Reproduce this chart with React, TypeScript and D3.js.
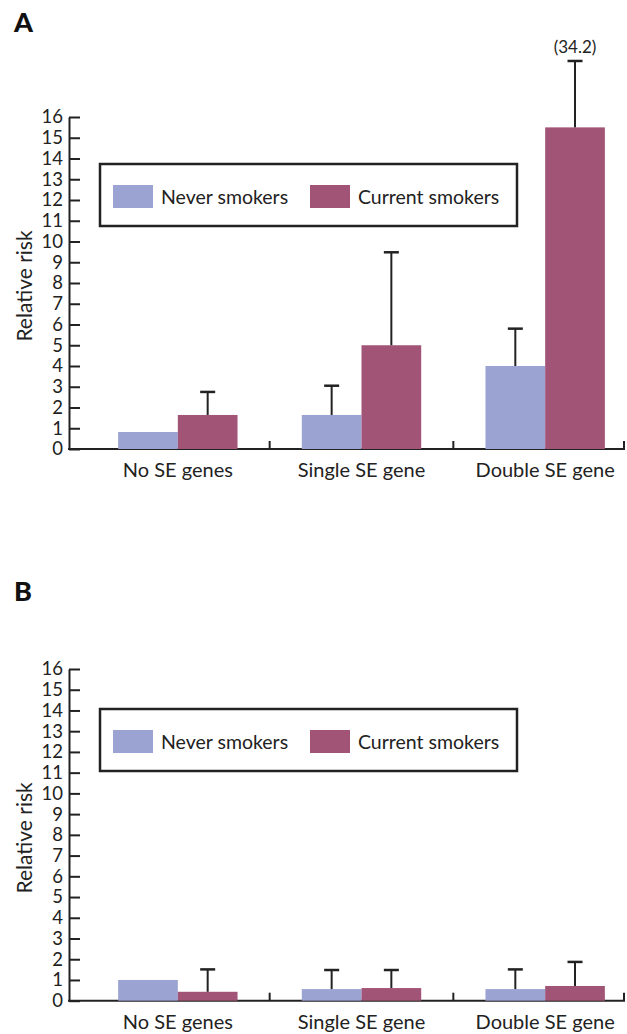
import React, { useEffect, useRef } from 'react';
import * as d3 from 'd3';

const categories = ['No SE genes', 'Single SE gene', 'Double SE gene'];
const seriesNames = ['Never smokers', 'Current smokers'];
const seriesColors = ['#9ba3d3', '#a25476'];
const yTicks = [0, 1, 2, 3, 4, 5, 6, 7, 8, 9, 10, 11, 12, 13, 14, 15, 16];

// panel A: relative risk and upper limit of the error bar (null = no bar)
const neverA = [0.82, 1.64, 4.0];
const neverUpperA = [null, 3.05, 5.8];
const currentA = [1.64, 5.0, 15.5];
const currentUpperA = [2.75, 9.48, 34.2];

// panel B
const neverB = [1.0, 0.56, 0.56];
const neverUpperB = [null, 1.48, 1.51];
const currentB = [0.43, 0.61, 0.71];
const currentUpperB = [1.51, 1.48, 1.87];

const axisMax = 16;
const offScaleLimit = 20;
const brokenBarTop = 18.7; // off-scale error bars are cut here and labelled

const font = "Lato, 'Open Sans', sans-serif";
const ink = '#222';

function drawPanel(svg, o) {
  const g = svg.append('g');
  const y = d3.scaleLinear().domain([0, axisMax]).range([o.y0, o.y16]);
  const x = d3.scaleBand().domain(categories).range([86, 637]).paddingInner(0.35).paddingOuter(0.175);
  const xs = d3.scaleBand().domain(seriesNames).range([0, x.bandwidth()]);

  g.append('text').attr('x', 14).attr('y', o.letterY).text(o.letter)
    .attr('font-family', font).attr('font-weight', 900).attr('font-size', 27).attr('fill', '#111');

  // y axis, ticks pointing inward
  const ya = g.append('g').attr('transform', 'translate(69,0)')
    .call(d3.axisLeft(y).tickValues(yTicks).tickSizeInner(-11).tickSizeOuter(0).tickPadding(6));
  ya.select('.domain').attr('stroke', ink).attr('stroke-width', 2);
  ya.selectAll('.tick line').attr('stroke', ink).attr('stroke-width', 2);
  ya.selectAll('.tick text').attr('font-family', font).attr('font-size', 18.5).attr('fill', ink);

  g.append('text')
    .attr('transform', `translate(32,${(o.y0 + o.y16) / 2 + 3}) rotate(-90)`)
    .attr('text-anchor', 'middle').text('Relative risk')
    .attr('font-family', font).attr('font-size', 21).attr('fill', ink);

  // x axis
  g.append('line').attr('x1', 68).attr('x2', 625).attr('y1', o.y0).attr('y2', o.y0)
    .attr('stroke', ink).attr('stroke-width', 2);
  const sepX = categories.slice(0, -1).map(c => x(c) + x.bandwidth() + (x.step() * x.paddingInner()) / 2);
  sepX.concat([624]).forEach(sx => {
    g.append('line').attr('x1', sx).attr('x2', sx).attr('y1', o.y0).attr('y2', o.y0 - 8)
      .attr('stroke', ink).attr('stroke-width', 2);
  });
  g.selectAll('.cat').data(categories).enter().append('text')
    .attr('x', c => x(c) + x.bandwidth() / 2).attr('y', o.y0 + 28)
    .attr('text-anchor', 'middle').text(c => c)
    .attr('font-family', font).attr('font-size', 20).attr('fill', ink);

  const series = [
    { name: seriesNames[0], values: o.never, upper: o.neverUp, color: seriesColors[0] },
    { name: seriesNames[1], values: o.current, upper: o.currentUp, color: seriesColors[1] },
  ];

  series.forEach(s => {
    categories.forEach((c, i) => {
      const bx = x(c) + xs(s.name);
      const v = s.values[i];
      g.append('rect').attr('x', bx).attr('y', y(v)).attr('width', xs.bandwidth())
        .attr('height', o.y0 - y(v)).attr('fill', s.color);
    });
  });

  series.forEach(s => {
    categories.forEach((c, i) => {
      const up = s.upper[i];
      if (up == null) return;
      const cx = x(c) + xs(s.name) + xs.bandwidth() / 2;
      const v = s.values[i];
      const top = up > offScaleLimit ? y(brokenBarTop) : y(up);
      g.append('line').attr('x1', cx).attr('x2', cx).attr('y1', y(v)).attr('y2', top)
        .attr('stroke', ink).attr('stroke-width', 2);
      g.append('line').attr('x1', cx - 7.5).attr('x2', cx + 7.5).attr('y1', top).attr('y2', top)
        .attr('stroke', ink).attr('stroke-width', 2.5);
      if (up > offScaleLimit) {
        g.append('text').attr('x', cx).attr('y', top - 8).attr('text-anchor', 'middle')
          .text(`(${up})`).attr('font-family', font).attr('font-size', 17).attr('fill', ink);
      }
    });
  });

  // legend
  const lg = g.append('g').attr('transform', `translate(100,${o.legendTop})`);
  lg.append('rect').attr('width', 417).attr('height', 62).attr('fill', 'white')
    .attr('stroke', ink).attr('stroke-width', 2.5);
  const itemX = [13, 210];
  seriesNames.forEach((n, i) => {
    lg.append('rect').attr('x', itemX[i]).attr('y', 21).attr('width', 40).attr('height', 23)
      .attr('fill', seriesColors[i]);
    lg.append('text').attr('x', itemX[i] + 48).attr('y', 40).text(n)
      .attr('font-family', font).attr('font-size', 19.5).attr('fill', ink);
  });
}

export default function App() {
  const ref = useRef(null);
  useEffect(() => {
    const svg = d3.select(ref.current);
    svg.selectAll('*').remove();
    drawPanel(svg, {
      letter: 'A', letterY: 32, y0: 449, y16: 117, legendTop: 164,
      never: neverA, neverUp: neverUpperA, current: currentA, currentUp: currentUpperA,
    });
    drawPanel(svg, {
      letter: 'B', letterY: 601, y0: 1000.7, y16: 669, legendTop: 709,
      never: neverB, neverUp: neverUpperB, current: currentB, currentUp: currentUpperB,
    });
  }, []);
  return (
    <svg ref={ref} width={627} height={1034}
      style={{ position: 'absolute', left: 0, top: 0, background: 'white' }} />
  );
}
